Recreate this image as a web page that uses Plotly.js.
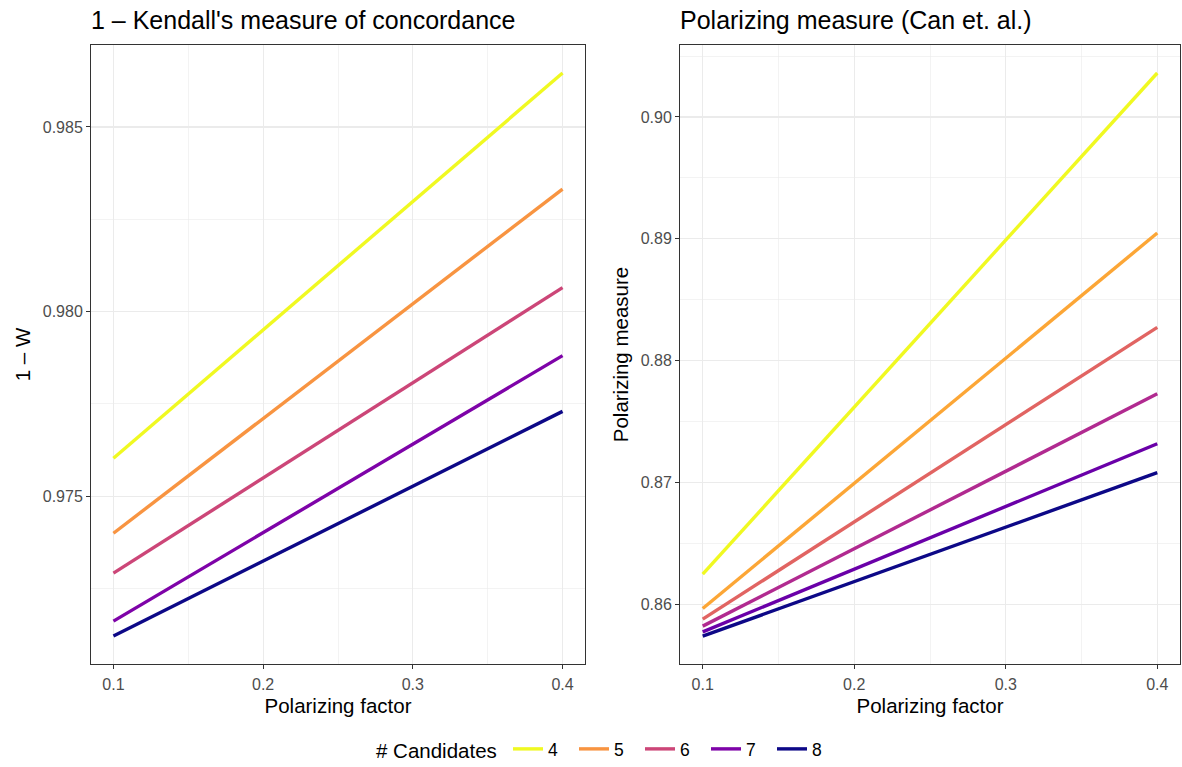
<!DOCTYPE html>
<html>
<head>
<meta charset="utf-8">
<script src="https://cdn.plot.ly/plotly-3.0.1.min.js"></script>
<style>html,body{margin:0;padding:0;background:#fff;}#chart{width:1182px;height:767px;}</style>
</head>
<body>
<div id="chart"></div>
<script>
// Polarizing factor values
const polarizingFactor = [0.1, 0.4];

// Left panel: 1 - Kendall's W, by number of candidates
const leftCandidates = ['4', '5', '6', '7', '8'];
const leftColors = ['#F0F921', '#F89441', '#CC4678', '#7E03A8', '#0D0887'];
const kendall4 = [0.97603, 0.98646];
const kendall5 = [0.97400, 0.98332];
const kendall6 = [0.97292, 0.98065];
const kendall7 = [0.97162, 0.97881];
const kendall8 = [0.97122, 0.97730];
const kendallSeries = [kendall4, kendall5, kendall6, kendall7, kendall8];

// Right panel: Polarizing measure (Can et al.)
const rightColors = ['#F0F921', '#FCA636', '#E16462', '#B12A90', '#6A00A8', '#0D0887'];
const polar1 = [0.86246, 0.90361];
const polar2 = [0.85965, 0.89047];
const polar3 = [0.85877, 0.88273];
const polar4 = [0.85820, 0.87727];
const polar5 = [0.85773, 0.87317];
const polar6 = [0.85738, 0.87080];
const polarSeries = [polar1, polar2, polar3, polar4, polar5, polar6];

const font = 'Liberation Sans, Arial, Helvetica, sans-serif';
const traces = [];
kendallSeries.forEach((ys, i) => {
  traces.push({
    x: polarizingFactor, y: ys, type: 'scatter', mode: 'lines',
    name: leftCandidates[i], xaxis: 'x', yaxis: 'y',
    line: {color: leftColors[i], width: 3.4}, legendgroup: leftCandidates[i]
  });
});
polarSeries.forEach((ys, i) => {
  traces.push({
    x: polarizingFactor, y: ys, type: 'scatter', mode: 'lines',
    name: 'p' + i, xaxis: 'x2', yaxis: 'y2', showlegend: false,
    line: {color: rightColors[i], width: 3.4}
  });
});

const W = 1182, H = 767;
const gridColor = '#EBEBEB';
function xax(domain, anchor) {
  return {
    domain: domain, anchor: anchor, range: [0.085, 0.415],
    tick0: 0.1, dtick: 0.1, tickformat: '.1f',
    showgrid: true, gridcolor: gridColor, gridwidth: 1.1,
    minor: {tick0: 0.05, dtick: 0.05, showgrid: true, gridcolor: gridColor, gridwidth: 0.6, ticks: ''},
    zeroline: false, showline: true, linecolor: '#333333', linewidth: 1, mirror: true,
    ticks: 'outside', ticklen: 4, tickcolor: '#333333', tickwidth: 1, ticklabelstandoff: 2,
    tickfont: {family: font, size: 16, color: '#4D4D4D'},
    title: {text: 'Polarizing factor', font: {family: font, size: 20.5, color: '#000'}, standoff: 6}
  };
}
function yax(domain, anchor, range, dtick, fmt, title, minorTick0) {
  return {
    domain: domain, anchor: anchor, range: range,
    dtick: dtick, tick0: 0, tickformat: fmt,
    showgrid: true, gridcolor: gridColor, gridwidth: 1.1,
    minor: {dtick: dtick / 2, tick0: minorTick0, showgrid: true, gridcolor: gridColor, gridwidth: 0.6, ticks: ''},
    zeroline: false, showline: true, linecolor: '#333333', linewidth: 1, mirror: true,
    ticks: 'outside', ticklen: 4, tickcolor: '#333333', tickwidth: 1,
    tickfont: {family: font, size: 16, color: '#4D4D4D'},
    title: {text: title, font: {family: font, size: 20.5, color: '#000'}, standoff: 6}
  };
}

const yDom = [1 - 664 / H, 1 - 45 / H];
const layout = {
  width: W, height: H,
  margin: {l: 0, r: 0, t: 0, b: 0},
  paper_bgcolor: '#fff', plot_bgcolor: '#fff',
  font: {family: font},
  showlegend: true,
  xaxis: xax([91 / W, 585 / W], 'y'),
  yaxis: yax(yDom, 'x', [0.97046, 0.98722], 0.005, '.3f', '1 \u2013 W', 0.0025),
  xaxis2: xax([680 / W, 1180 / W], 'y2'),
  yaxis2: yax(yDom, 'x2', [0.85509, 0.90591], 0.01, '.2f', 'Polarizing measure', 0.005),
  legend: {
    orientation: 'h', x: 508 / W, xanchor: 'left', y: 0, yanchor: 'bottom',
    font: {family: font, size: 17.5, color: '#000'},
    itemwidth: 30, entrywidth: 21, tracegroupgap: 0, bgcolor: 'rgba(0,0,0,0)'
  },
  annotations: [
    {text: "1 \u2013 Kendall's measure of concordance", xref: 'paper', yref: 'paper',
     x: 89 / W, y: 1 - 20 / H, xanchor: 'left', yanchor: 'middle', showarrow: false,
     font: {family: font, size: 25, color: '#000'}},
    {text: 'Polarizing measure (Can et. al.)', xref: 'paper', yref: 'paper',
     x: 678 / W, y: 1 - 20 / H, xanchor: 'left', yanchor: 'middle', showarrow: false,
     font: {family: font, size: 25, color: '#000'}},
    {text: '# Candidates', xref: 'paper', yref: 'paper',
     x: 499 / W, y: 1 - 750 / H, xanchor: 'right', yanchor: 'middle', showarrow: false,
     font: {family: font, size: 20.5, color: '#000'}}
  ]
};

Plotly.newPlot('chart', traces, layout, {displayModeBar: false, staticPlot: true});
</script>
</body>
</html>
